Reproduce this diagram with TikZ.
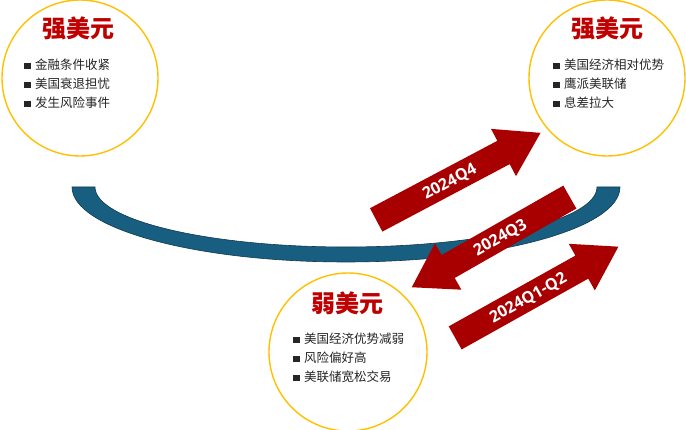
\documentclass[tikz,border=0pt]{standalone}
\usepackage{fontspec}
\setmainfont{Noto Sans CJK SC}
\newfontfamily\qfont{Open Sans}
\usetikzlibrary{shapes.arrows}
\definecolor{dollarred}{RGB}{192,0,0}
\definecolor{arrowred}{RGB}{168,0,0}
\definecolor{smileblue}{RGB}{24,94,128}
\definecolor{smileline}{RGB}{16,58,80}
\definecolor{ringgold}{RGB}{255,192,0}
\newcommand{\blt}{\raisebox{0.5pt}{\rule{6.5pt}{6.5pt}}\hspace{4.5pt}}

\begin{document}
\begin{tikzpicture}[x=1pt, y=1pt,
    ring/.style={circle, draw=ringgold, line width=1.4pt, fill=white, minimum size=156pt, inner sep=0pt},
    title/.style={text=dollarred, font=\fontsize{24}{24}\selectfont\bfseries},
    items/.style={anchor=west, align=left, inner sep=0pt, text=black!85, font=\fontsize{12.5}{19}\selectfont},
    period/.style={single arrow, fill=arrowred, anchor=tail, text=white, font=\qfont\bfseries\fontsize{16}{16}\selectfont, text height=11.4pt, text depth=0pt, inner ysep=7.3pt, inner xsep=2pt, single arrow head extend=13.5pt, single arrow tip angle=65}]
    \useasboundingbox (0,0) rectangle (686,430);
    % the smile
    \draw[fill=smileblue, draw=smileline, line width=0.6pt] (72,243) arc[start angle=180, end angle=360, x radius=274, y radius=75] -- (597,243) arc[start angle=0, end angle=-180, x radius=251, y radius=60] -- cycle;
    % three circles
    \node[ring] (strongL) at (80,352) {};
    \node[ring] (strongR) at (607,352) {};
    \node[ring, minimum size=158pt] (weak) at (348,78) {};
    \node[title] (strongLtitle) at (78,402) {强美元};
    \node[title] (strongRtitle) at (607,402) {强美元};
    \node[title] (weaktitle) at (347,127) {弱美元};
    \node[items] (strongLitems) at (24,346) {\blt 金融条件收紧\\\blt 美国衰退担忧\\\blt 发生风险事件};
    \node[items] (strongRitems) at (553,346) {\blt 美国经济相对优势\\\blt 鹰派美联储\\\blt 息差拉大};
    \node[items] (weakitems) at (293,72) {\blt 美国经济优势减弱\\\blt 风险偏好高\\\blt 美联储宽松交易};
    % arrows
    \node[period, rotate=29.2, minimum height=187pt] (q12) at (455,92) {2024Q1-Q2};
    \node[period, rotate=27.9, minimum height=186pt] (q4) at (376,210) {2024Q4};
    \node[period, rotate=29.7, shape border rotate=180, minimum height=182pt] (q3) at (570,233) {2024Q3};
\end{tikzpicture}
\end{document}
